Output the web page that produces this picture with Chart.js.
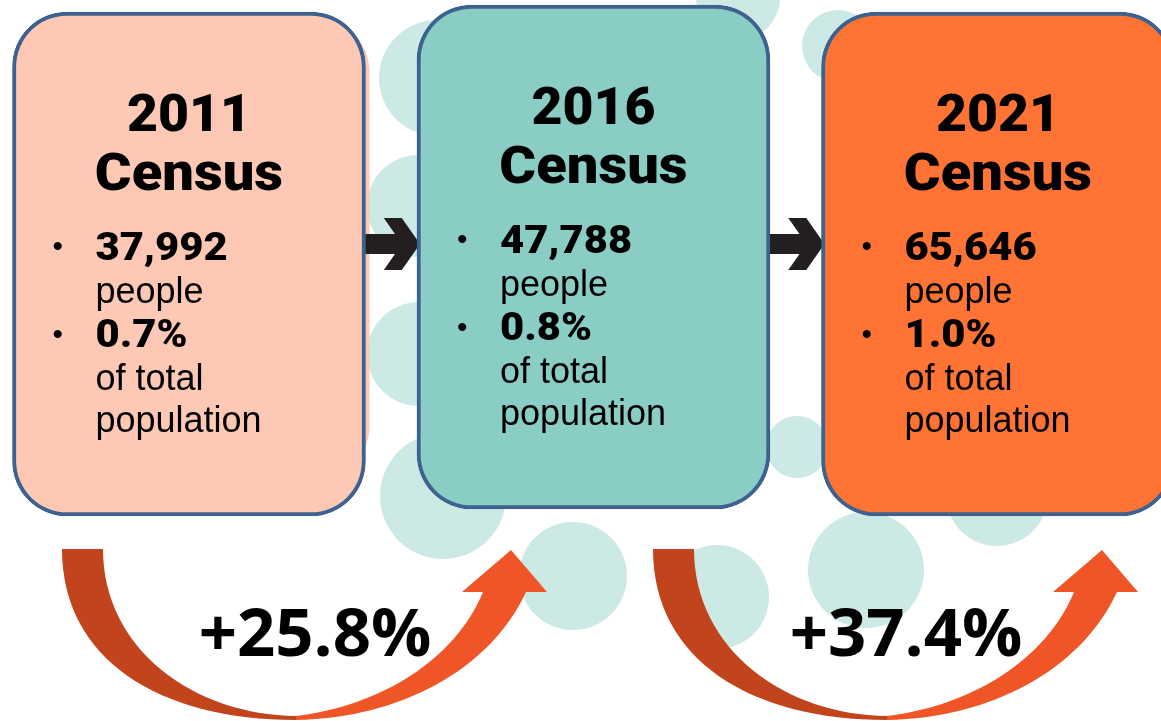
<!DOCTYPE html>
<html>
<head>
<meta charset="utf-8">
<script src="https://cdn.jsdelivr.net/npm/chart.js@4.4.0/dist/chart.umd.min.js"></script>
<style>
  html, body { margin: 0; padding: 0; background: #fff; }
  #wrap { width: 1161px; height: 721px; }
</style>
</head>
<body>
<div id="wrap"><canvas id="census"></canvas></div>
<script>
// census figures
const years = [2011, 2016, 2021];
const people = [37992, 47788, 65646];
const shareOfTotal = [0.7, 0.8, 1.0];
const growth = [25.8, 37.4];

// look
const cardColors = ['#fdc9b4', '#89cdc5', '#ff7335'];
const cardLiftPx = [0, 7, 0];
const heavyFont = 'Roboto, "DejaVu Sans", sans-serif';
const plainFont = '"Liberation Sans", Arial, sans-serif';

// each card is one unit tall; scale limits put it at 12..516 px
const cardPx = 504;
const yMin = -205 / cardPx;
const yMax = 1 + 12 / cardPx;

const bubbles = [
  [437, 78, 58], [418, 206, 51], [419, 354, 52], [443, 496, 63],
  [573, 576, 54], [717, 597, 52], [866, 570, 58], [997, 495, 51],
  [797, 447, 31], [838, 46, 36], [738, -2, 42]
];

// the heavy face is a bit narrower than the original, so widen it a touch
function wideText(ctx, text, x, y, sx) {
  ctx.save();
  ctx.translate(x, y);
  ctx.scale(sx, 1);
  ctx.fillText(text, 0, 0);
  ctx.restore();
}

function chevron(ctx, xFrom, xTip, cy) {
  const h = 26, t = 10, w = 18, k = 0.7;
  ctx.beginPath();
  ctx.moveTo(xFrom, cy - t);
  ctx.lineTo(xTip - w - k * t, cy - t);
  ctx.lineTo(xTip - w - k * h, cy - h);
  ctx.lineTo(xTip - k * h, cy - h);
  ctx.lineTo(xTip, cy);
  ctx.lineTo(xTip - k * h, cy + h);
  ctx.lineTo(xTip - w - k * h, cy + h);
  ctx.lineTo(xTip - w - k * t, cy + t);
  ctx.lineTo(xFrom, cy + t);
  ctx.closePath();
  ctx.fill();
}

function swoop(ctx, ox) {
  // falling half
  ctx.fillStyle = '#c1441c';
  ctx.beginPath();
  ctx.moveTo(ox + 62, 549);
  ctx.bezierCurveTo(ox + 62, 660, ox + 160, 720, ox + 296, 720);
  ctx.lineTo(ox + 296, 716);
  ctx.bezierCurveTo(ox + 195, 715, ox + 103, 650, ox + 103, 549);
  ctx.closePath();
  ctx.fill();
  // rising half with head
  ctx.fillStyle = '#ef5526';
  ctx.beginPath();
  ctx.moveTo(ox + 296, 720);
  ctx.bezierCurveTo(ox + 400, 718, ox + 490, 670, ox + 526, 592);
  ctx.lineTo(ox + 547, 592);
  ctx.lineTo(ox + 511, 550);
  ctx.lineTo(ox + 462, 592);
  ctx.lineTo(ox + 483, 592);
  ctx.bezierCurveTo(ox + 455, 660, ox + 380, 706, ox + 296, 716);
  ctx.closePath();
  ctx.fill();
}

const decor = {
  id: 'decor',
  beforeDatasetsDraw(chart) {
    const ctx = chart.ctx;
    const bars = chart.getDatasetMeta(0).data;
    ctx.save();
    ctx.fillStyle = '#cde9e5';
    bubbles.forEach(([x, y, r]) => {
      ctx.beginPath();
      ctx.arc(x, y, r, 0, Math.PI * 2);
      ctx.fill();
    });
    // soft offset behind the first card
    const b0 = bars[0];
    ctx.fillStyle = cardColors[0];
    ctx.beginPath();
    ctx.roundRect(b0.x - b0.width / 2 + 4, Math.min(b0.y, b0.base) + 5, b0.width, Math.abs(b0.base - b0.y) - 40, 55);
    ctx.fill();
    ctx.fillStyle = '#231f20';
    for (let i = 0; i < bars.length - 1; i++) {
      const a = bars[i], b = bars[i + 1];
      chevron(ctx, a.x + a.width / 2 - 3, b.x - b.width / 2 + 3, 244);
    }
    ctx.restore();
  },
  afterDatasetsDraw(chart) {
    const ctx = chart.ctx;
    const bars = chart.getDatasetMeta(0).data;
    ctx.save();
    ctx.fillStyle = '#000';
    bars.forEach((bar, i) => {
      const left = bar.x - bar.width / 2;
      const top = Math.min(bar.y, bar.base);
      ctx.textAlign = 'center';
      ctx.font = '900 51px ' + heavyFont;
      wideText(ctx, String(years[i]), bar.x, top + 119, 1.05);
      wideText(ctx, 'Census', bar.x, top + 178, 1.1);

      ctx.textAlign = 'left';
      ctx.font = '30px ' + plainFont;
      ctx.fillText('\u2022', left + 40, top + 244);
      ctx.fillText('\u2022', left + 40, top + 332);

      ctx.font = '900 39px ' + heavyFont;
      wideText(ctx, people[i].toLocaleString('en-US'), left + 83, top + 248, 1.07);
      wideText(ctx, shareOfTotal[i].toFixed(1) + '%', left + 83, top + 335, 1.07);

      ctx.font = '36px ' + plainFont;
      ctx.fillText('people', left + 83, top + 291);
      ctx.fillText('of total', left + 83, top + 378);
      ctx.fillText('population', left + 83, top + 420);
    });

    [0, 591].forEach((ox, i) => {
      swoop(ctx, ox);
      ctx.fillStyle = '#000';
      ctx.textAlign = 'center';
      ctx.font = 'bold 67px "Open Sans", "Noto Sans", sans-serif';
      ctx.fillText('+' + growth[i].toFixed(1) + '%', ox + 315, 656);
    });
    ctx.restore();
  }
};

new Chart(document.getElementById('census'), {
  type: 'bar',
  data: {
    datasets: [{
      data: years.map((yr, i) => {
        const lift = cardLiftPx[i] / cardPx;
        return { x: yr, y: [lift, 1 + lift] };
      }),
      backgroundColor: cardColors,
      borderColor: '#3e6290',
      borderWidth: 4,
      borderRadius: 55,
      borderSkipped: false,
      barThickness: 353
    }]
  },
  options: {
    responsive: true,
    maintainAspectRatio: false,
    animation: false,
    layout: { padding: 0 },
    plugins: { legend: { display: false }, tooltip: { enabled: false } },
    scales: {
      x: { type: 'linear', min: 2008.664, max: 2023.015, offset: false, bounds: 'data', display: false },
      y: { min: yMin, max: yMax, bounds: 'data', display: false }
    }
  },
  plugins: [decor]
});
</script>
</body>
</html>
